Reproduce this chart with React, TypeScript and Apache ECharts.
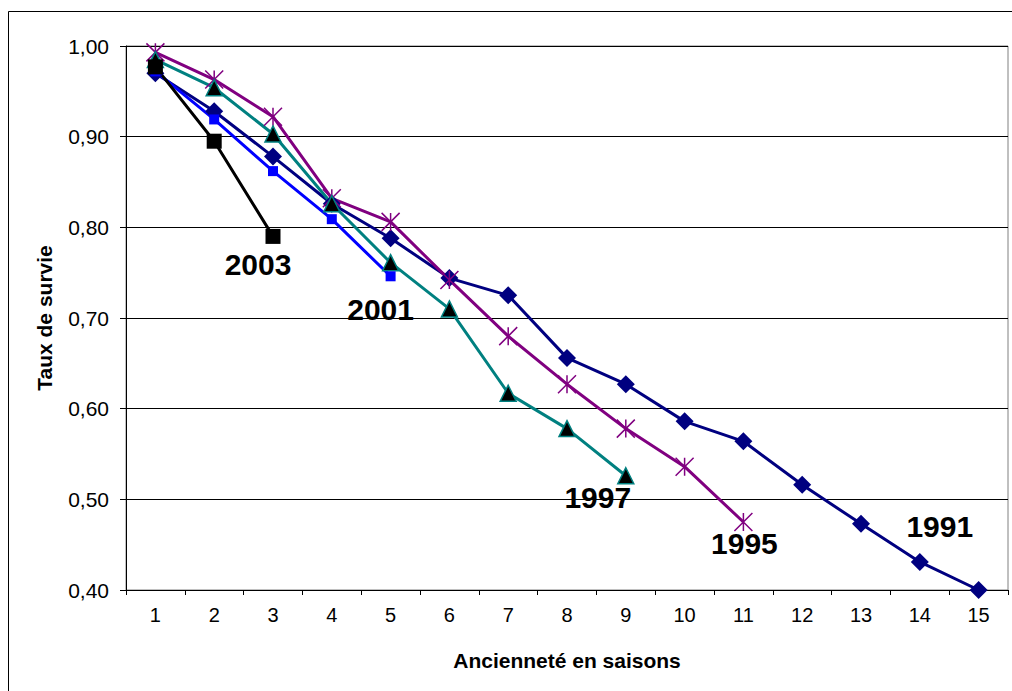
import React, { useEffect, useRef } from "react";
import * as echarts from "echarts";

const categories = ["1", "2", "3", "4", "5", "6", "7", "8", "9", "10", "11", "12", "13", "14", "15"];
const yTicks = [0.4, 0.5, 0.6, 0.7, 0.8, 0.9, 1.0];

const s1991 = [0.970, 0.928, 0.878, 0.826, 0.788, 0.744, 0.725, 0.656, 0.627, 0.586, 0.564, 0.516, 0.473, 0.431, 0.400];
const s1995 = [0.993, 0.963, 0.922, 0.832, 0.806, 0.742, 0.680, 0.627, 0.578, 0.536, 0.475];
const s1997 = [0.985, 0.954, 0.903, 0.826, 0.761, 0.710, 0.617, 0.578, 0.526];
const s2001 = [0.972, 0.919, 0.862, 0.809, 0.746];
const s2003 = [0.977, 0.895, 0.790];

const seriesNames = ["1991", "1995", "1997", "2001", "2003"];

const FONT = "'Liberation Sans', Arial, sans-serif";

function withLabel(values: number[], idx: number, text: string, offset: number[]) {
  return values.map((v, i) =>
    i === idx
      ? {
          value: v,
          label: {
            show: true,
            position: "inside",
            offset,
            formatter: text,
            fontSize: 30,
            fontWeight: "bold",
            fontFamily: FONT,
            color: "#000",
          },
        }
      : v
  );
}

export default function App() {
  const ref = useRef<HTMLDivElement>(null);
  useEffect(() => {
    if (!ref.current) return;
    const chart = echarts.init(ref.current, undefined, { renderer: "svg" });
    const star = "path://M0 0L16 16M16 0L0 16M8 0L8 16";
    chart.setOption({
      animation: false,
      backgroundColor: "#fff",
      textStyle: { fontFamily: FONT },
      grid: {
        left: 126,
        top: 46,
        right: 4,
        bottom: 101,
        show: true,
        borderColor: "#808080",
        borderWidth: 1,
      },
      graphic: [
        {
          type: "rect",
          shape: { x: 8.5, y: 11.5, width: 1200, height: 1000 },
          style: { fill: "none", stroke: "#000", lineWidth: 1 },
          silent: true,
        },
      ],
      xAxis: {
        type: "category",
        data: categories,
        boundaryGap: true,
        name: "Ancienneté en saisons",
        nameLocation: "middle",
        nameGap: 60,
        nameTextStyle: { fontSize: 21, fontWeight: "bold", color: "#000", fontFamily: FONT },
        axisLine: { lineStyle: { color: "#000", width: 1 } },
        axisTick: { show: true, length: 5, lineStyle: { color: "#000" } },
        axisLabel: { fontSize: 20, color: "#000", margin: 15, fontFamily: FONT, interval: 0 },
        splitLine: { show: false },
      },
      yAxis: {
        type: "value",
        min: yTicks[0],
        max: yTicks[yTicks.length - 1],
        interval: 0.1,
        name: "Taux de survie",
        nameLocation: "middle",
        nameGap: 71,
        nameTextStyle: { fontSize: 21, fontWeight: "bold", color: "#000", fontFamily: FONT },
        axisLine: { show: true, lineStyle: { color: "#000", width: 1 } },
        axisTick: { show: true, length: 6, inside: false, lineStyle: { color: "#000" } },
        axisLabel: {
          fontSize: 21,
          color: "#000",
          margin: 17,
          fontFamily: FONT,
          formatter: (v: number) => v.toFixed(2).replace(".", ","),
        },
        splitLine: { show: true, lineStyle: { color: "#000", width: 1 } },
      },
      series: [
        {
          name: seriesNames[0],
          type: "line",
          data: withLabel(s1991, 13, "1991", [20, -35]),
          symbol: "diamond",
          symbolSize: 18,
          lineStyle: { color: "#000080", width: 3 },
          itemStyle: { color: "#000080" },
        },
        {
          name: seriesNames[1],
          type: "line",
          data: withLabel(s1995, s1995.length - 1, "1995", [1, 21]),
          symbol: star,
          symbolSize: 18,
          lineStyle: { color: "#800080", width: 3 },
          itemStyle: { color: "#800080", borderColor: "#800080", borderWidth: 1.5 },
        },
        {
          name: seriesNames[2],
          type: "line",
          data: withLabel(s1997, s1997.length - 1, "1997", [-28, 22]),
          symbol: "triangle",
          symbolSize: 16,
          lineStyle: { color: "#008080", width: 3 },
          itemStyle: { color: "#000", borderColor: "#008080", borderWidth: 1.5 },
        },
        {
          name: seriesNames[3],
          type: "line",
          data: withLabel(s2001, s2001.length - 1, "2001", [-10, 33]),
          symbol: "rect",
          symbolSize: 10,
          lineStyle: { color: "#0000FF", width: 3 },
          itemStyle: { color: "#0000FF" },
        },
        {
          name: seriesNames[4],
          type: "line",
          data: withLabel(s2003, s2003.length - 1, "2003", [-15, 28]),
          symbol: "rect",
          symbolSize: 15,
          lineStyle: { color: "#000", width: 3 },
          itemStyle: { color: "#000" },
        },
      ],
    });
    return () => chart.dispose();
  }, []);
  return (
    <div
      ref={ref}
      style={{ position: "absolute", left: 0, top: 0, width: 1012, height: 691, background: "#fff" }}
    />
  );
}
